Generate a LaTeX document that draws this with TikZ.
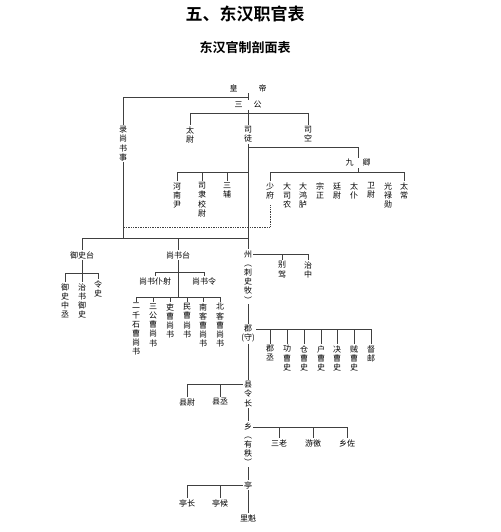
\documentclass[tikz,border=0pt]{standalone}
\usepackage{fontspec}
\newfontfamily\cjk{Noto Sans CJK SC}[BoldFont={Noto Sans CJK SC Bold}]
\usetikzlibrary{%
    calc,
    positioning
}
\tikzset{post/.style = {font=\cjk\fontsize{8}{9.2}\selectfont, text=black, inner sep=1.2pt, align=center}}
\tikzset{postcol/.style = {post, anchor=north}}
\tikzset{rank/.style = {draw=black!75, line width=.7pt}}
\tikzset{hint/.style = {rank, densely dotted, shorten <=5pt}}

\begin{document}
\begin{tikzpicture}[x=1pt, y=-1pt]
    \useasboundingbox (0,0) rectangle (500,532);
    \node (title) [font=\cjk\bfseries\fontsize{17}{20}\selectfont] at (245,14) {五、东汉职官表};
    \node (subtitle) [font=\cjk\bfseries\fontsize{13}{15}\selectfont] at (245,48) {东汉官制剖面表};

    % court
    \node (emperor) [post] at (248,88) {皇\hspace{21pt}帝};
    \node (sangong) [post] at (248,105) {三\hspace{11pt}公};
    \node (lushang) [postcol] at (123,125) {录\\尚\\书\\事};
    \foreach \Name/\Text/\X in {taiwei/太\\尉/190, situ/司\\徒/248, sikong/司\\空/308}
        \node (\Name) [postcol] at (\X,125) {\Text};
    \node (jiuqing) [post] at (358,163) {九\hspace{9pt}卿};
    \foreach \Name/\Text/\X in {shaofu/少\\府/270, dasinong/大\\司\\农/287, dahonglu/大\\鸿\\胪/303,
            zongzheng/宗\\正/320, tingwei/廷\\尉/337, taipu/太\\仆/354, weiwei/卫\\尉/371,
            guanglu/光\\禄\\勋/388, taichang/太\\常/404}
        \node (\Name) [postcol] at (\X,181) {\Text};
    \foreach \Name/\Text/\X in {henan/河\\南\\尹/177, sili/司\\隶\\校\\尉/202, sanfu/三\\辅/227}
        \node (\Name) [postcol] at (\X,181) {\Text};

    % central offices
    \node (yushitai) [post] at (82,255) {御史台};
    \node (zhongcheng) [postcol] at (65,282) {御\\史\\中\\丞};
    \node (zhishu) [postcol] at (82,282) {治\\书\\御\\史};
    \node (lingshi) [postcol] at (98,279) {令\\史};
    \node (shangshutai) [post] at (178,255) {尚书台};
    \node (pushe) [post] at (155,281) {尚书仆射};
    \node (shangshuling) [post] at (204,281) {尚书令};
    \foreach \Name/\Text/\X in {erqian/二\\千\\石\\曹\\尚\\书/136, sangongcao/三\\公\\曹\\尚\\书/153,
            licao/吏\\曹\\尚\\书/170, mincao/民\\曹\\尚\\书/187,
            nanke/南\\客\\曹\\尚\\书/203, beike/北\\客\\曹\\尚\\书/220}
        \node (\Name) [postcol] at (\X,302) {\Text};

    % local offices
    \node (zhou) [postcol] at (248,249) {州\\︵\\刺\\史\\牧\\︶};
    \node (biejia) [postcol] at (282,260) {别\\驾};
    \node (zhizhong) [postcol] at (308,260) {治\\中};
    \node (jun) [postcol] at (248,324) {郡\\(守)};
    \foreach \Name/\Text/\X in {juncheng/郡\\丞/270, gongcao/功\\曹\\史/287, cangcao/仓\\曹\\史/304,
            hucao/户\\曹\\史/321, juecao/决\\曹\\史/337, zeicao/贼\\曹\\史/354, duyou/督\\邮/371}
        \node (\Name) [postcol] at (\X,344) {\Text};
    \node (xian) [postcol] at (248,380) {县\\令\\长};
    \node (xianwei) [post] at (187,402) {县尉};
    \node (xiancheng) [post] at (220,402) {县丞};
    \node (xiang) [postcol] at (248,421) {乡\\︵\\有\\秩\\︶};
    \node (sanlao) [post] at (279,443) {三老};
    \node (youjiao) [post] at (313,443) {游徼};
    \node (xiangzuo) [post] at (347,443) {乡佐};
    \node (ting) [post] at (248,485) {亭};
    \node (tingzhang) [post] at (187,503) {亭长};
    \node (tinghou) [post] at (220,503) {亭候};
    \node (likui) [post] at (248,518) {里魁};

    % bar levels
    \coordinate (hdbar) at (248,97);
    \coordinate (sgbar) at (248,113);
    \coordinate (jqturn) at (248,147);
    \coordinate (jqbar) at (0,172);
    \coordinate (hintbar) at (0,227);
    \coordinate (midbar) at (248,238);
    \coordinate (ysbar) at (0,273);
    \coordinate (ssbar) at (0,272);
    \coordinate (caobar) at (0,297);
    \coordinate (zhoubar) at (0,254);
    \coordinate (junbar) at (0,329);
    \coordinate (xianbar) at (0,384);
    \coordinate (xiangbar) at (0,427);

    % court links
    \draw[rank] (emperor) -- (sangong);
    \draw[rank] (hdbar) -| (lushang);
    \draw[rank] (sangong) -- (sgbar);
    \draw[rank] (sgbar -| taiwei) -- (sgbar -| sikong);
    \foreach \Target in {taiwei, situ, sikong}
        \draw[rank] (sgbar -| \Target) -- (\Target);
    \draw[rank] (jqturn) -| (jiuqing);
    \draw[rank] (jiuqing) -- (jiuqing |- jqbar);
    \draw[rank] (jqbar -| shaofu) -- (jqbar -| taichang);
    \draw[rank] (jqbar -| henan) -- (jqbar -| situ);
    \foreach \Target in {shaofu, taichang, henan, sili, sanfu}
        \draw[rank] (jqbar -| \Target) -- (\Target);
    \draw[hint] (shaofu) |- (hintbar -| lushang);

    % central links
    \draw[rank] (lushang) -- (lushang |- midbar);
    \draw[rank] (midbar -| yushitai) -- (midbar);
    \foreach \Target in {yushitai, shangshutai}
        \draw[rank] (midbar -| \Target) -- (\Target);
    \draw[rank] (yushitai) -- (yushitai |- ysbar);
    \draw[rank] (ysbar -| zhongcheng) -- (ysbar -| lingshi);
    \foreach \Target in {zhongcheng, zhishu, lingshi}
        \draw[rank] (ysbar -| \Target) -- (\Target);
    \draw[rank] (shangshutai) -- (shangshutai |- caobar);
    \draw[rank] (ssbar -| pushe) -- (ssbar -| shangshuling);
    \foreach \Target in {pushe, shangshuling}
        \draw[rank] (ssbar -| \Target) -- (\Target);
    \draw[rank] (caobar -| erqian) -- (caobar -| beike);
    \foreach \Target in {erqian, sangongcao, licao, mincao, nanke, beike}
        \draw[rank] (caobar -| \Target) -- (\Target);

    % local links
    \foreach \Source/\Target in {situ/zhou, zhou/jun, jun/xian, xian/xiang, xiang/ting, ting/likui}
        \draw[rank] (\Source) -- (\Target);
    \draw[rank] (zhou.east |- zhoubar) -- (zhoubar -| zhizhong);
    \foreach \Target in {biejia, zhizhong}
        \draw[rank] (zhoubar -| \Target) -- (\Target);
    \draw[rank] (jun.east |- junbar) -- (junbar -| duyou);
    \foreach \Target in {juncheng, gongcao, cangcao, hucao, juecao, zeicao, duyou}
        \draw[rank] (junbar -| \Target) -- (\Target);
    \draw[rank] (xian.west |- xianbar) -- (xianbar -| xianwei);
    \foreach \Target in {xianwei, xiancheng}
        \draw[rank] (xianbar -| \Target) -- (\Target);
    \draw[rank] (xiang.east |- xiangbar) -- (xiangbar -| xiangzuo);
    \foreach \Target in {sanlao, youjiao, xiangzuo}
        \draw[rank] (xiangbar -| \Target) -- (\Target);
    \draw[rank] (ting) -- (ting -| tingzhang);
    \foreach \Target in {tingzhang, tinghou}
        \draw[rank] (ting -| \Target) -- (\Target);
\end{tikzpicture}
\end{document}
